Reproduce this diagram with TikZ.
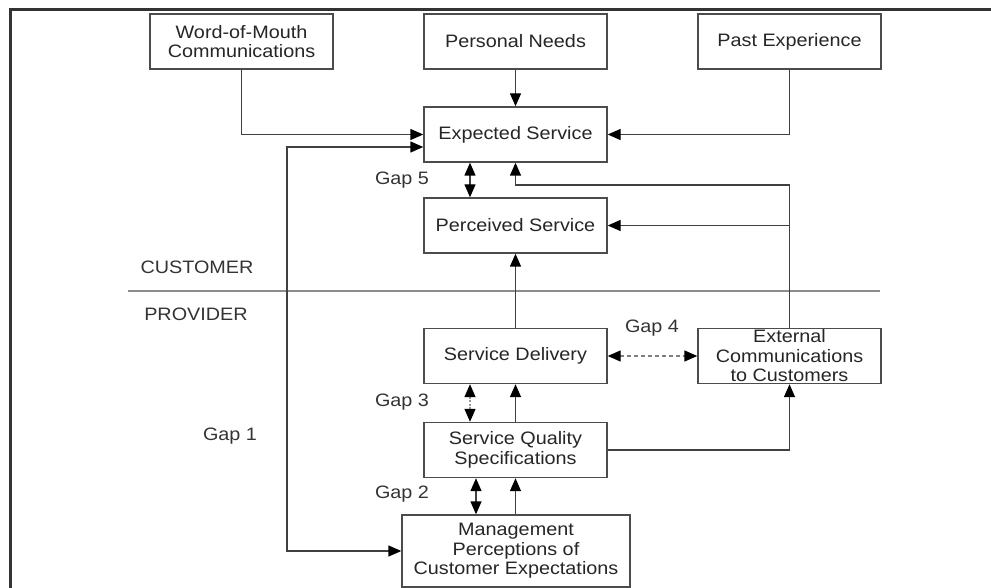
\documentclass[tikz,border=0pt]{standalone}
\usepackage{fontspec}
\newfontfamily\diag{Liberation Sans}[FakeStretch=1.1]
\usetikzlibrary{arrows.meta}
\begin{document}
\begin{tikzpicture}[x=1pt,y=-1pt,
  box/.style={draw=black!70,line width=1.4pt,fill=white,minimum width=183pt,minimum height=55pt,inner sep=0pt,align=center,text=black!85,font=\diag\fontsize{18}{19.5}\selectfont},
  lbl/.style={inner sep=0pt,text=black!80,font=\diag\fontsize{18}{19.5}\selectfont},
  conn/.style={draw=black!75,line width=1.4pt},
  tip/.tip={Triangle[length=13pt,width=11pt,color=black]},
  arr/.style={conn,-tip},
  darr/.style={conn,tip-tip}]
\useasboundingbox (0,0) rectangle (991,588);
\draw[line width=3pt,black!80] (10,588) -- (10,10) -- (991,10);
% boxes
\node[box] (wom) at (241.5,41.5) {Word-of-Mouth\\Communications};
\node[box] (pn) at (515.5,41.5) {Personal Needs};
\node[box] (pe) at (789.5,41.5) {Past Experience};
\node[box] (exp) at (515.5,134.5) {Expected Service};
\node[box] (per) at (515.5,225.5) {Perceived Service};
\node[box] (sd) at (515.5,356) {Service Delivery};
\node[box] (ext) at (789.5,356) {External\\Communications\\to Customers};
\node[box] (sqs) at (515.5,450) {Service Quality\\Specifications};
\node[box,minimum width=228pt,minimum height=72pt] (mg) at (516,551) {Management\\Perceptions of\\Customer Expectations};
% separator
\coordinate (sepl) at (128,291);
\coordinate (sepr) at (880,291);
\draw[line width=1.5pt,black!45] (sepl) -- (sepr);
\node[lbl] (cust) at (197,267) {CUSTOMER};
\node[lbl] (prov) at (196,314) {PROVIDER};
% labels
\node[lbl] (g5) at (402,180) {Gap 5};
\node[lbl] (g4) at (652,328) {Gap 4};
\node[lbl] (g3) at (402,402) {Gap 3};
\node[lbl] (g2) at (402,494) {Gap 2};
\node[lbl] (g1) at (230,436) {Gap 1};
% connectors
\draw[arr] (wom.south) |- (exp.west);
\draw[arr] (pe.south) |- (exp.east);
\draw[arr] (pn.south) -- (exp.north);
\coordinate (g1a) at (287,147);
\coordinate (g1b) at (287,551);
\draw[darr] ([yshift=-12.5pt]exp.west) -- (g1a) -- (g1b) -- (mg.west);
\draw[darr] ([xshift=-45.5pt]exp.south) -- ([xshift=-45.5pt]per.north);
\coordinate (eup) at (789.5,185);
\draw[arr] (ext.north) -- (eup) -| (exp.south);
\draw[arr] (ext.north |- per.east) -- (per.east);
\draw[arr] (sd.north) -- (per.south);
\draw[conn,black!50,dash pattern=on 4pt off 3pt,tip-tip] (sd.east) -- (ext.west);
\draw[conn,black!40,dash pattern=on 2pt off 1.5pt,tip-tip] ([xshift=-45.5pt]sd.south) -- ([xshift=-45.5pt]sqs.north);
\draw[arr] (sqs.north) -- (sd.south);
\draw[arr] (sqs.east) -| (ext.south);
\draw[darr] ([xshift=-39.5pt]sqs.south) -- ([xshift=-39.5pt]sqs.south |- mg.north);
\draw[arr] (mg.north -| sqs.south) -- (sqs.south);
\end{tikzpicture}
\end{document}
